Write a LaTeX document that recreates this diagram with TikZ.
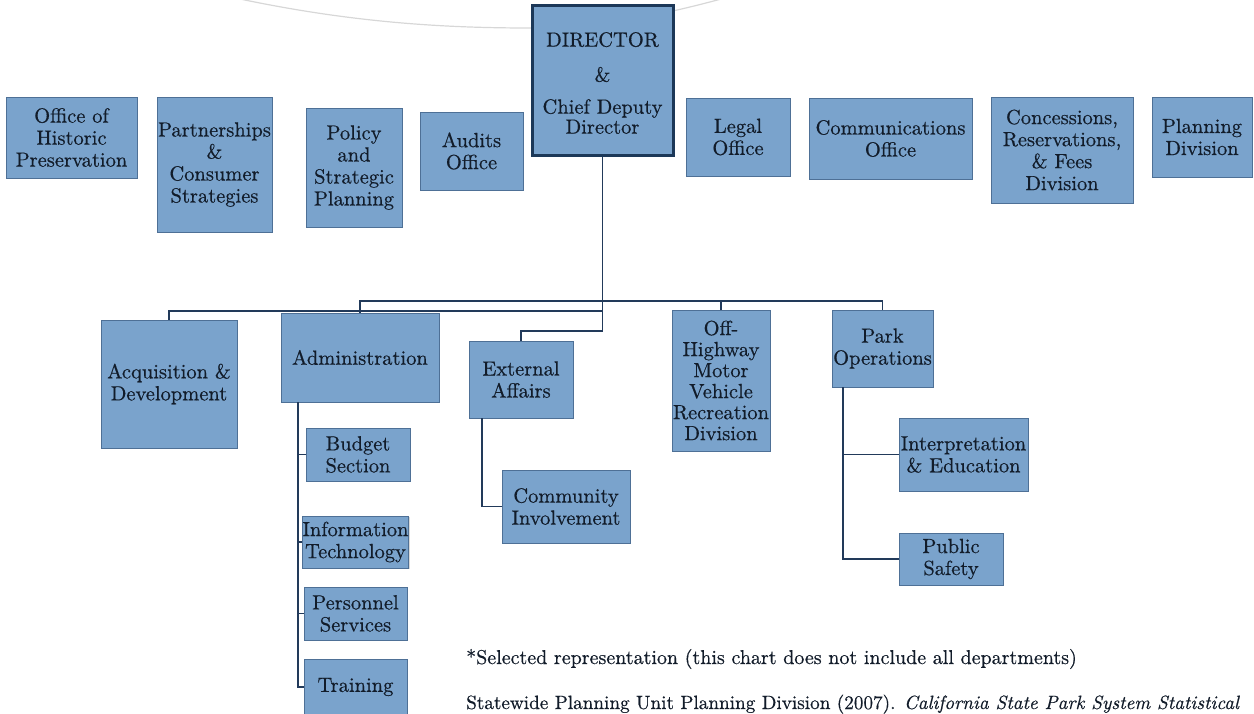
\documentclass[tikz,border=0pt]{standalone}
\usepackage{fontspec}
\setmainfont{lmroman10}[Extension=.otf, UprightFont=*-regular, ItalicFont=*-italic, BoldFont=*-bold, FakeBold=0.5]
\usetikzlibrary{calc,shadows}
\definecolor{boxfill}{RGB}{122,163,204}
\definecolor{boxline}{RGB}{78,112,150}
\definecolor{conn}{RGB}{34,58,90}
\definecolor{dirline}{RGB}{28,56,88}
\definecolor{txt}{RGB}{18,28,42}
\definecolor{arcgray}{RGB}{215,215,215}
\tikzset{
  orgbox/.style={draw=boxline, fill=boxfill, line width=0.8pt, inner sep=0pt,
    align=center, text=txt, font=\fontsize{20.5}{22}\selectfont,
    drop shadow={shadow xshift=1.2pt, shadow yshift=-1.2pt, opacity=0.25, fill=black!60}},
  dirbox/.style={orgbox, draw=dirline, line width=3pt},
  dirlabel/.style={inner sep=0pt, align=center, text=txt, font=\fontsize{20.5}{22}\selectfont},
  link/.style={draw=conn, line width=1.8pt},
  note/.style={inner sep=0pt, text=txt, font=\fontsize{20}{22}\selectfont}
}
\begin{document}
\begin{tikzpicture}[x=1pt,y=-1pt]
\useasboundingbox (0,0) rectangle (1254,713);
% background arc
\draw[arcgray, line width=1.2pt] (240,-1) .. controls (350,22) and (440,28) .. (530,28)
   .. controls (610,28) and (680,10) .. (725,-2);
% top row
\node[orgbox, minimum width=131, minimum height=81] (ohp) at (71.5,137.5) {Office of\\Historic\\Preservation};
\node[orgbox, minimum width=115, minimum height=135] (pcs) at (214.5,164.5) {\rule{0pt}{8pt}Partnerships\\\&\\Consumer\\Strategies};
\node[orgbox, minimum width=96, minimum height=119] (psp) at (354,167.5) {Policy\\and\\Strategic\\Planning};
\node[orgbox, minimum width=103, minimum height=78] (aud) at (471.5,151) {Audits\\Office};
\node[dirbox, minimum width=141, minimum height=150] (dir) at (602.5,80) {};
\node[dirlabel] (dirtext) at ($(dir.center)+(0,3)$) {DIRECTOR\\[13pt]\&\\[10pt]Chief Deputy\\[-2pt]Director};
\node[orgbox, minimum width=104, minimum height=78] (leg) at (738,137) {Legal\\Office};
\node[orgbox, minimum width=163, minimum height=81] (com) at (890.5,138.5) {Communications\\Office};
\node[orgbox, minimum width=142, minimum height=106] (crf) at (1062,150) {Concessions,\\Reservations,\\\& Fees\\Division};
\node[orgbox, minimum width=100, minimum height=80] (pln) at (1202,137) {Planning\\Division};
% second row
\node[orgbox, minimum width=136, minimum height=128] (acq) at (169,384) {Acquisition \&\\Development};
\node[orgbox, minimum width=158, minimum height=89] (adm) at (360,357.5) {Administration};
\node[orgbox, minimum width=104, minimum height=77] (ext) at (521,379.5) {External\\Affairs};
\node[orgbox, minimum width=98, minimum height=141] (ohv) at (721,380.5) {Off-\\[-1pt]Highway\\[-1pt]Motor\\[-1pt]Vehicle\\[-1pt]Recreation\\[-1pt]Division};
\node[orgbox, minimum width=101, minimum height=77] (pko) at (882.5,348.5) {Park\\Operations};
% sub units
\node[orgbox, minimum width=104, minimum height=53] (bud) at (358,454.5) {Budget\\Section};
\node[orgbox, minimum width=105, minimum height=52] (itc) at (355.5,542) {Information\\Technology};
\node[orgbox, minimum width=103, minimum height=53] (per) at (355.5,613.5) {Personnel\\Services};
\node[orgbox, minimum width=103, minimum height=56] (trn) at (355.5,687) {Training};
\node[orgbox, minimum width=128, minimum height=73] (cin) at (566,506.5) {Community\\Involvement};
\node[orgbox, minimum width=129, minimum height=73] (ied) at (963.5,454.5) {Interpretation\\\& Education};
\node[orgbox, minimum width=104, minimum height=52] (pub) at (951,559) {Public\\Safety};
% connectors
\coordinate (bus2) at ($(acq.north)+(0,-9)$);
\draw[link] (dir.south) |- ($(ext.north)+(0,-10)$) -- (ext.north);
\draw[link] (acq.north) -- (bus2) -- (bus2 -| dir.south);
\draw[link] (adm.north) -- ++(0,-12) -| (pko.north);
\draw[link] (ohv.north) -- ++(0,-9);
\coordinate (admv) at ($(adm.south west)+(17,0)$);
\draw[link] (admv) |- (trn.west);
\draw[link] (bud.west -| admv) -- (bud.west);
\draw[link] (itc.west -| admv) -- (itc.west);
\draw[link] (per.west -| admv) -- (per.west);
\coordinate (extv) at ($(ext.south west)+(13,0)$);
\draw[link] (extv) |- (cin.west);
\coordinate (pkov) at ($(pko.south west)+(11,0)$);
\draw[link] (pkov) |- (pub.west);
\draw[link] (ied.west -| pkov) -- (ied.west);
% notes
\node[note, anchor=base west] (n1) at (466,664) {*Selected representation (this chart does not include all departments)};
\node[note, anchor=base west, font=\fontsize{19.2}{22}\selectfont] (n2) at (466,709) {Statewide Planning Unit Planning Division (2007). \textit{California State Park System Statistical}};
\end{tikzpicture}
\end{document}
